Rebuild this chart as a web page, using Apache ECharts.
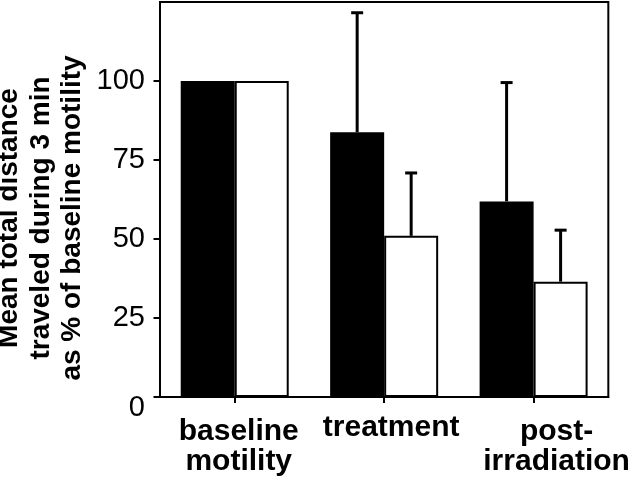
<!DOCTYPE html>
<html>
<head>
<meta charset="utf-8">
<script src="https://cdn.jsdelivr.net/npm/echarts@6/dist/echarts.min.js"></script>
<style>
html,body{margin:0;padding:0;background:#fff;}
#main{width:632px;height:482px;}
</style>
</head>
<body>
<div id="main"></div>
<script>
// ---- data ----
const categories = ['baseline\nmotility', 'treatment', 'post-\nirradiation'];
const blackMeans = [100, 83.8, 61.9];
const whiteMeans = [100, 51.0, 36.5];
const blackErr = [0, 37.8, 37.6];
const whiteErr = [0, 19.9, 16.3];
const yTickValues = [0, 25, 50, 75, 100];
const yMax = 125;
const yTitleLines = ['Mean total distance', 'traveled during 3 min', 'as % of baseline motility'];

// ---- layout / style ----
const FONT = 'Liberation Sans, Arial, Helvetica, sans-serif';
const BAR_W = 54;
const labelKeys = ['a', 't', 'p'];

const chart = echarts.init(document.getElementById('main'), null, {renderer: 'canvas'});

function errRender(offsetSign) {
  return function (params, api) {
    const i = api.value(0), m = api.value(1), e = api.value(2);
    if (!e) return null;
    const b = api.coord([i, m]);
    const t = api.coord([i, m + e]);
    const x = b[0] + offsetSign * BAR_W / 2;
    return {
      type: 'group',
      children: [
        {type: 'line', shape: {x1: x, y1: b[1], x2: x, y2: t[1]}, style: {stroke: '#000', lineWidth: 3}},
        {type: 'line', shape: {x1: x - 6, y1: t[1], x2: x + 6, y2: t[1]}, style: {stroke: '#000', lineWidth: 3}}
      ]
    };
  };
}

const baseRich = {fontFamily: FONT, fontSize: 30, fontWeight: 'bold', color: '#000'};

chart.setOption({
  animation: false,
  backgroundColor: '#fff',
  grid: {left: 160, right: 18, top: 2, bottom: 85, show: true, borderColor: '#000', borderWidth: 2, backgroundColor: 'transparent'},
  xAxis: {
    type: 'category',
    data: categories,
    axisLine: {lineStyle: {color: '#000', width: 2}},
    axisTick: {show: true, alignWithLabel: true, length: 6, lineStyle: {color: '#000', width: 2}},
    axisLabel: {
      interval: 0,
      margin: 20,
      formatter: function (v, idx) {
        const k = labelKeys[idx];
        return v.split('\n').map(s => '{' + k + '|' + s + '}').join('\n');
      },
      rich: {
        a: Object.assign({}, baseRich, {lineHeight: 30, padding: [0, 0, 0, 8]}),
        t: Object.assign({}, baseRich, {lineHeight: 22, padding: [0, 0, 0, 14]}),
        p: Object.assign({}, baseRich, {lineHeight: 30, padding: [0, 0, 0, 46]})
      }
    },
    splitLine: {show: false}
  },
  yAxis: {
    type: 'value',
    min: 0,
    max: yMax,
    interval: 25,
    axisLine: {show: true, lineStyle: {color: '#000', width: 2}},
    axisTick: {show: true, length: 6.5, customValues: yTickValues, lineStyle: {color: '#000', width: 2}},
    axisLabel: {
      customValues: yTickValues,
      margin: 15,
      fontFamily: FONT,
      fontSize: 29,
      color: '#000',
      formatter: function (v) { return v === 0 ? '{z|0}' : String(v); },
      rich: {z: {fontFamily: FONT, fontSize: 29, color: '#000', padding: [22, 0, 0, 0]}}
    },
    splitLine: {show: false}
  },
  graphic: [{
    type: 'text',
    x: 41,
    y: 218,
    rotation: Math.PI / 2,
    style: {
      text: yTitleLines.join('\n'),
      fontFamily: FONT,
      fontSize: 28,
      fontWeight: 'bold',
      lineHeight: 31.5,
      fill: '#000',
      align: 'center',
      verticalAlign: 'middle'
    }
  }],
  series: [
    {
      type: 'bar',
      data: blackMeans,
      barWidth: BAR_W,
      barGap: '0%',
      itemStyle: {color: '#000', borderColor: '#000', borderWidth: 1.5},
      z: 2
    },
    {
      type: 'bar',
      data: whiteMeans,
      barWidth: BAR_W,
      barGap: '0%',
      itemStyle: {color: '#fff', borderColor: '#000', borderWidth: 2},
      z: 2
    },
    {
      type: 'custom',
      renderItem: errRender(-1),
      data: categories.map((c, i) => [i, blackMeans[i], blackErr[i]]),
      encode: {x: 0, y: 1},
      z: 3
    },
    {
      type: 'custom',
      renderItem: errRender(1),
      data: categories.map((c, i) => [i, whiteMeans[i], whiteErr[i]]),
      encode: {x: 0, y: 1},
      z: 3
    }
  ]
});
</script>
</body>
</html>
